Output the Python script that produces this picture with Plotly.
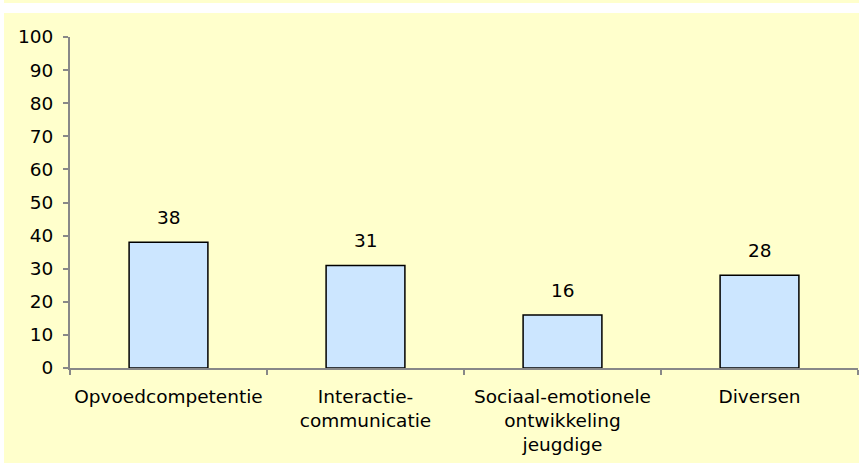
import plotly.graph_objects as go

categories = ["Opvoedcompetentie", "Interactie-<br>communicatie",
              "Sociaal-emotionele<br>ontwikkeling<br>jeugdige", "Diversen"]
values = [38, 31, 16, 28]
y_ticks = [0, 10, 20, 30, 40, 50, 60, 70, 80, 90, 100]

W, H = 859, 463
L, R, T, B = 70, 1, 37, 95
pw, ph = W - L - R, H - T - B

def px_x(p):
    return (p - L) / pw

def px_y(p):
    return (H - B - p) / ph

YELLOW = "#FFFFCC"
FONT = dict(family="DejaVu Sans", size=18.5, color="#000000")

fig = go.Figure()
fig.add_trace(go.Bar(
    x=categories, y=values, width=0.4,
    marker=dict(color="#CCE6FF", line=dict(color="#000000", width=1.5)),
    showlegend=False, hoverinfo="skip",
))

for c, v in zip(categories, values):
    fig.add_annotation(x=c, y=v, text=str(v), showarrow=False,
                       yanchor="bottom", yshift=12, font=FONT)

fig.update_layout(
    width=W, height=H, autosize=False,
    margin=dict(l=L, r=R, t=T, b=B, pad=0, autoexpand=False),
    paper_bgcolor=YELLOW, plot_bgcolor=YELLOW,
    font=FONT,
    bargap=0.6,
    shapes=[
        dict(type="rect", xref="paper", yref="paper", layer="below",
             x0=px_x(-5), x1=px_x(W + 5), y0=px_y(13), y1=px_y(3),
             fillcolor="#FFFFFF", line=dict(width=0)),
        dict(type="rect", xref="paper", yref="paper", layer="below",
             x0=px_x(-5), x1=px_x(4), y0=px_y(H + 5), y1=px_y(-5),
             fillcolor="#FFFFFF", line=dict(width=0)),
    ],
)

fig.update_xaxes(
    showline=True, linecolor="#888888", linewidth=2,
    ticks="outside", tickson="boundaries", ticklen=5, tickcolor="#888888",
    tickwidth=1.5, showgrid=False, tickfont=FONT, ticklabelstandoff=11,
    tickangle=0, automargin=False,
)
fig.update_yaxes(
    range=[0, 100], tickvals=y_ticks,
    showline=True, linecolor="#888888", linewidth=2,
    ticks="outside", ticklen=5, tickcolor="#888888", tickwidth=1.5,
    showgrid=False, zeroline=False, tickfont=FONT, ticklabelstandoff=6,
    automargin=False,
)

fig.write_html(
    "out.html",
    config=dict(displayModeBar=False, responsive=False),
    post_script="document.body.style.margin='0';document.body.style.overflow='hidden';",
)
